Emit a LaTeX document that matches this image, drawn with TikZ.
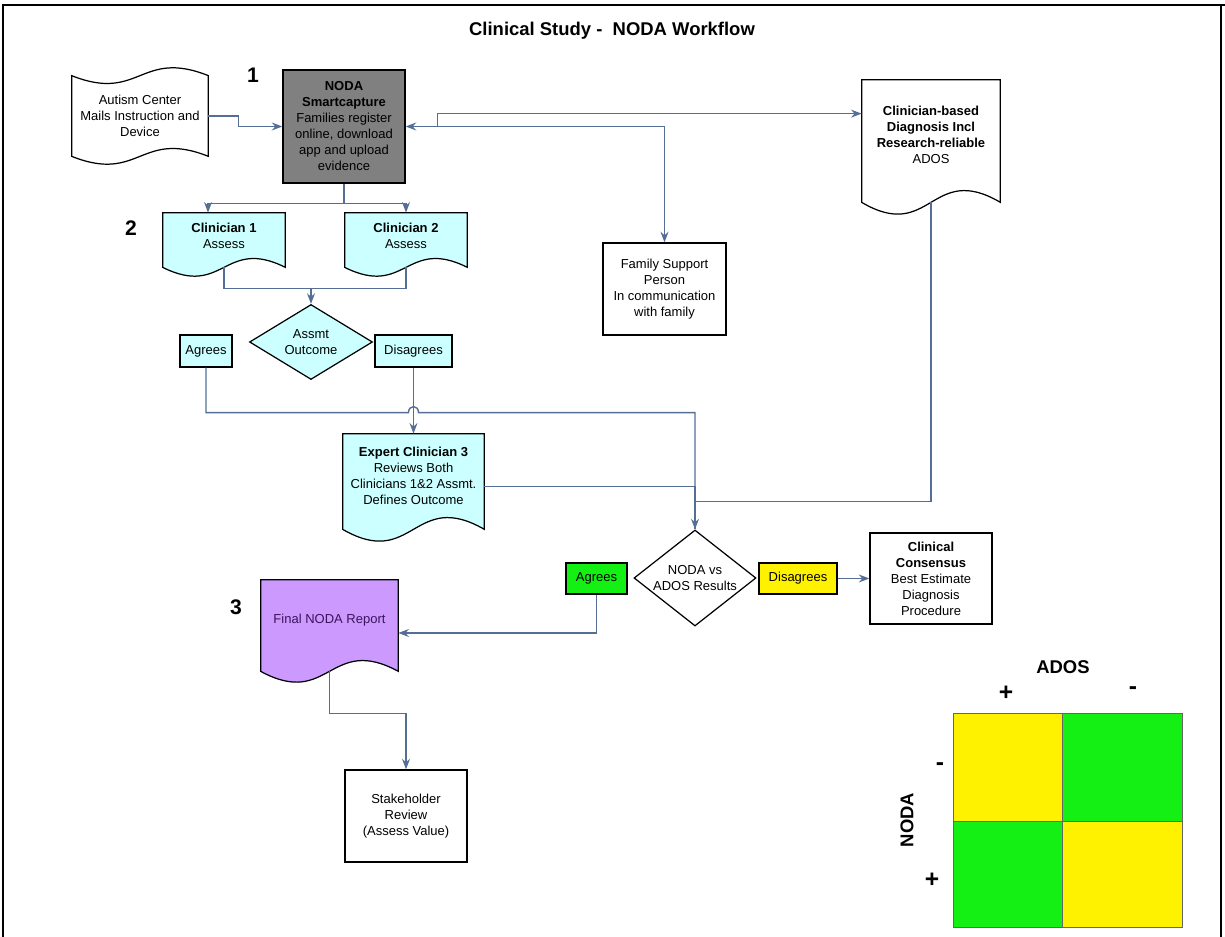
\documentclass[tikz,border=0pt]{standalone}
\usepackage{fontspec}
\setmainfont{Liberation Sans}
\usepackage{xcolor}
\usepackage{tikz}
\usetikzlibrary{positioning,arrows.meta,shapes.geometric,calc,backgrounds}

\definecolor{assesscyan}{RGB}{204,255,255}
\definecolor{linkblue}{RGB}{84,110,150}
\definecolor{reportpurple}{RGB}{204,153,255}
\definecolor{reporttext}{RGB}{60,20,90}
\definecolor{okgreen}{RGB}{20,240,20}
\definecolor{boxgray}{RGB}{128,128,128}

\newcommand{\docwave}[3]{%
  \begin{pgfonlayer}{background}
  \path[#3] (#1.north west) -- (#1.north east) -- ($(#1.south east)+(0,#2)$)
    .. controls ($(#1.south)+(0,{-2.4*#2})$) and ($(#1.south)+(0,{4.4*#2})$) .. ($(#1.south west)+(0,#2)$) -- cycle;
  \end{pgfonlayer}}
\newcommand{\tapewave}[3]{%
  \begin{pgfonlayer}{background}
  \path[#3] (#1.north west) .. controls ($(#1.north)+(0,{3.4*#2})$) and ($(#1.north)+(0,{-3.4*#2})$) .. (#1.north east)
    -- (#1.south east) .. controls ($(#1.south)+(0,{-3.4*#2})$) and ($(#1.south)+(0,{3.4*#2})$) .. (#1.south west) -- cycle;
  \end{pgfonlayer}}

\begin{document}
\begin{tikzpicture}[
			x=0.2mm, y=-0.2mm,
			>={Stealth[length=6pt,width=4.5pt]},
			font=\fontsize{7.4}{9.1}\selectfont,
			every node/.style={align=center, inner sep=0pt},
			box/.style={draw, line width=0.7pt, minimum width=24.4mm, minimum height=18.4mm},
			doc/.style={minimum width=24.4mm},
			tag/.style={draw, line width=0.7pt, minimum height=6.4mm},
			decision/.style={diamond, draw, line width=0.7pt, aspect=1.3},
			num/.style={font=\fontsize{12}{14}\selectfont\bfseries},
			sign/.style={font=\fontsize{14}{16}\selectfont\bfseries},
			outline/.style={draw, line width=0.7pt},
			link/.style={draw=linkblue, line width=0.8pt}
			]
			\useasboundingbox (0,0) rectangle (1225,937);
			\draw[line width=0.8pt] (3,945) -- (3,5) -- (1221,5) -- (1221,945);
			\draw[line width=1.2pt] (3,5) -- (1225,5);
			
			\node[font=\fontsize{10.5}{12}\selectfont\bfseries] (title) at (612,31) {Clinical Study -\ \ NODA Workflow};
			\node[num] (n1) at (253,75) {1};
			\node[num] (n2) at (131,228) {2};
			\node[num] (n3) at (236,607) {3};
			
			\node[minimum width=27.2mm, minimum height=16mm] (autism) at (140,116) {Autism Center\\Mails Instruction and\\Device};
			\node[box, fill=boxgray, minimum height=22.6mm] (noda) at (344,126.5) {\textbf{NODA}\\\textbf{Smartcapture}\\Families register\\online, download\\app and upload\\evidence};
			\node[doc, minimum width=27.6mm, minimum height=22mm] (clinb) at (931,135) {\textbf{Clinician-based}\\\textbf{Diagnosis Incl}\\\textbf{Research-reliable}\\ADOS};
			\node[box, minimum width=24.6mm] (fam) at (664.5,289) {Family Support\\Person\\In communication\\with family};
			\node[doc, minimum height=9mm] (cl1) at (224,235.5) {\textbf{Clinician 1}\\Assess};
			\node[doc, minimum height=9mm] (cl2) at (406,235.5) {\textbf{Clinician 2}\\Assess};
			\node[decision, fill=assesscyan, minimum width=24.6mm, minimum height=15mm] (assmt) at (311,342) {Assmt\\Outcome};
			\node[tag, fill=assesscyan, minimum width=10.4mm] (agr1) at (206,351) {Agrees};
			\node[tag, fill=assesscyan, minimum width=15.4mm] (dis1) at (413.5,351) {Disagrees};
			\node[doc, minimum width=28.2mm, minimum height=16.6mm] (expert) at (413.5,475.5) {\textbf{Expert Clinician 3}\\Reviews Both\\Clinicians 1\&2 Assmt.\\Defines Outcome};
			\node[decision, fill=white, minimum width=24.4mm, minimum height=19.2mm] (vs) at (695,578) {NODA vs\\ADOS Results};
			\node[tag, fill=okgreen, minimum width=12.2mm, minimum height=6.2mm] (agr2) at (596.5,578.5) {Agrees};
			\node[tag, fill=yellow, minimum width=15.6mm, minimum height=6.2mm] (dis2) at (798,578.5) {Disagrees};
			\node[box, minimum height=18.2mm] (cons) at (931,578.5) {\textbf{Clinical}\\\textbf{Consensus}\\Best Estimate\\Diagnosis\\Procedure};
			\node[doc, minimum width=27.4mm, minimum height=16mm, text=reporttext] (final) at (329.5,620) {Final NODA Report};
			\node[box] (stake) at (406,816) {Stakeholder\\Review\\(Assess Value)};
			
			\tapewave{autism}{8}{outline, fill=white}
			\docwave{clinb}{12}{outline, fill=white}
			\docwave{cl1}{9}{outline, fill=assesscyan}
			\docwave{cl2}{9}{outline, fill=assesscyan}
			\docwave{expert}{12}{outline, fill=assesscyan}
			\docwave{final}{11}{outline, fill=reportpurple}
			
			\coordinate (clinin) at ($(clinb.north west)+(0,34)$);
			\coordinate (clinout) at ($(clinb.south)+(0,12)$);
			\coordinate (cl1out) at ($(cl1.south)+(0,9)$);
			\coordinate (cl2out) at ($(cl2.south)+(0,9)$);
			\coordinate (hop) at ($(dis1.south)+(0,45)$);
			\coordinate (finalout) at ($(final.south)+(0,11)$);
			
			\draw[link, ->] (autism.east) -- ++(30,0) |- (noda.west);
			\draw[link, <->] (noda.east) -| (fam.north);
			\draw[link, ->] ($(noda.east)+(32,0)$) |- (clinin);
			\draw[link, ->] (noda.south) -- ++(0,20) -| ($(cl1.north)+(-16,0)$);
			\draw[link, ->] (noda.south) -- ++(0,20) -| (cl2.north);
			\draw[link] (cl1out) -- ++(0,21) coordinate (merge) -| (cl2out);
			\draw[link, ->] (merge -| assmt.north) -- (assmt.north);
			\draw[link, ->] (dis1) -- (expert);
			\draw[link, ->] (agr1.south) |- ($(hop)+(-5,0)$)
				.. controls ($(hop)+(-5,-8)$) and ($(hop)+(5,-8)$) .. ($(hop)+(5,0)$)
				-| (vs.north);
			\draw[link] ($(expert.east)+(0,11)$) -| (vs.north);
			\draw[link] (clinout) |- ($(vs.north)+(0,-28)$);
			\draw[link, ->] (agr2.south) |- ($(final.east)+(0,13)$);
			\path[link, ->] (dis2) edge (cons);
			\draw[link, ->] (finalout) -- ++(0,42) -| (stake.north);
			
			\draw[fill=yellow, draw=black!60] (953,713) rectangle (1062,821);
			\draw[fill=okgreen, draw=black!60] (1062,713) rectangle (1182,821);
			\draw[fill=okgreen, draw=black!60] (953,821) rectangle (1062,927);
			\draw[fill=yellow, draw=black!60] (1062,821) rectangle (1182,927);
			\node[font=\fontsize{10.5}{12}\selectfont\bfseries] (ados) at (1063,667) {ADOS};
			\node[font=\fontsize{10.5}{12}\selectfont\bfseries, rotate=90] (nodaax) at (907,820) {NODA};
			\node[sign] (adospos) at (1006,693) {+};
			\node[sign] (adosneg) at (1133,691) {-};
			\node[sign] (nodaneg) at (940,767) {-};
			\node[sign] (nodapos) at (932,880) {+};
		\end{tikzpicture}
\end{document}
